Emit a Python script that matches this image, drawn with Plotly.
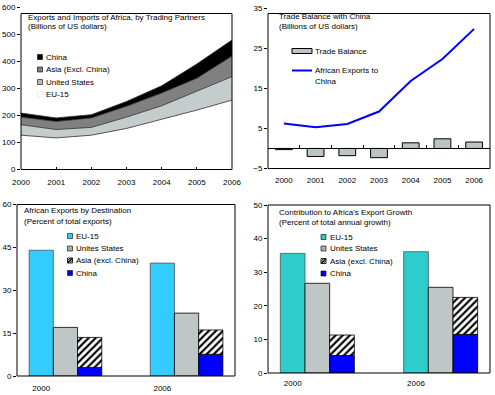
import plotly.graph_objects as go

W, H = 495, 395

# ---------------- data ----------------
years = [2000, 2001, 2002, 2003, 2004, 2005, 2006]
# Panel 1: exports + imports by partner (billions US$), stacked
eu15_trade = [127, 117, 127, 152, 186, 220, 257]
us_trade = [39, 31, 29, 42, 50, 69, 87]
asia_trade = [28, 30, 35, 40, 47, 49, 76]
china_trade = [15, 13, 12, 18, 27, 53, 60]

# Panel 2: trade balance with China and exports to China (billions US$)
year_labels = ["2000", "2001", "2002", "2003", "2004", "2005", "2006"]
trade_balance = [-0.3, -2.0, -1.8, -2.3, 1.4, 2.4, 1.6]
exports_to_china = [6.2, 5.3, 6.1, 9.2, 16.8, 22.3, 29.8]

# Panel 3: exports by destination (percent of total exports)
bar_years = ["2000", "2006"]
dest_eu = [44.0, 39.5]
dest_us = [17.0, 22.0]
dest_china = [3.0, 7.6]
dest_asia = [10.5, 8.5]   # Asia excl. China, stacked on China

# Panel 4: contribution to export growth (percent of total annual growth)
contr_eu = [35.6, 36.1]
contr_us = [26.7, 25.5]
contr_china = [5.2, 11.5]
contr_asia = [6.1, 11.0]  # stacked on China

# ---------------- style ----------------
FONT = "Liberation Sans, Arial, sans-serif"
FS = 8
C_EU3 = "#33CCFF"
C_EU4 = "#2ECCCC"
C_US = "#C0C6C6"
C_CHINA = "#0000FF"
C_BAL = "#BCC4C4"


def X(px):
    return px / W


def Y(py):
    return 1 - py / H


fig = go.Figure()

# ---- Panel 1: stacked areas ----
for vals, col, name in [
    (eu15_trade, "white", "EU-15"),
    (us_trade, "#C4CCCC", "United States"),
    (asia_trade, "#808080", "Asia (Excl. China)"),
    (china_trade, "#000000", "China"),
]:
    fig.add_trace(go.Scatter(
        x=years, y=vals, stackgroup="p1", mode="lines",
        line=dict(color="#303030", width=0.8), fillcolor=col,
        name=name, xaxis="x", yaxis="y", showlegend=False,
    ))

# ---- Panel 2: bars + line ----
fig.add_trace(go.Bar(
    x=year_labels, y=trade_balance, width=0.53,
    marker=dict(color=C_BAL, line=dict(color="black", width=1)),
    xaxis="x2", yaxis="y2", showlegend=False,
))
fig.add_trace(go.Scatter(
    x=year_labels, y=exports_to_china, mode="lines",
    line=dict(color=C_CHINA, width=2),
    xaxis="x2", yaxis="y2", showlegend=False,
))

# ---- Panels 3 & 4: grouped bars with stacked China/Asia ----
idx = list(range(len(bar_years)))
hatch = dict(shape="/", fgcolor="black", bgcolor="white", size=5, solidity=0.42)
for (eu, us, ch, asia, ceu, xa, ya) in [
    (dest_eu, dest_us, dest_china, dest_asia, C_EU3, "x3", "y3"),
    (contr_eu, contr_us, contr_china, contr_asia, C_EU4, "x4", "y4"),
]:
    fig.add_trace(go.Bar(x=idx, y=eu, offsetgroup="a",
                         marker=dict(color=ceu, line=dict(color="#404040", width=0.7)),
                         xaxis=xa, yaxis=ya, showlegend=False))
    fig.add_trace(go.Bar(x=idx, y=us, offsetgroup="b",
                         marker=dict(color=C_US, line=dict(color="black", width=0.8)),
                         xaxis=xa, yaxis=ya, showlegend=False))
    fig.add_trace(go.Bar(x=idx, y=ch, offsetgroup="c",
                         marker=dict(color=C_CHINA, line=dict(color="black", width=0.8)),
                         xaxis=xa, yaxis=ya, showlegend=False))
    fig.add_trace(go.Bar(x=idx, y=asia, base=ch, offsetgroup="c",
                         marker=dict(color="white", pattern=hatch,
                                     line=dict(color="black", width=0.8)),
                         xaxis=xa, yaxis=ya, showlegend=False))

# ---------------- axes ----------------
tickfont = dict(family=FONT, size=FS, color="black")

# panel geometry in pixels: x0, x1, y(range min), y(range max)
p1 = (21, 232, 169.5, 7.5)
p2 = (268, 490, 168.5, 8)
p3 = (17, 235, 376, 204.5)
p4 = (268, 490, 373, 205)

def xdom(p):
    return [X(p[0]), X(p[1])]

def ydom(p):
    return [Y(p[2]), Y(p[3])]

common_y = dict(showgrid=False, zeroline=False, ticks="outside", ticklen=3,
                tickcolor="black", tickfont=tickfont, showline=False,
                automargin=False, fixedrange=True)
common_x = dict(showgrid=False, zeroline=False, tickfont=tickfont,
                showline=False, automargin=False, fixedrange=True)

y2_range = [-5, 35]
y2_dom = ydom(p2)
zero_pos = y2_dom[0] + (0 - y2_range[0]) / (y2_range[1] - y2_range[0]) * (y2_dom[1] - y2_dom[0])

fig.update_layout(
    xaxis=dict(domain=xdom(p1), anchor="y", range=[2000, 2006], tickmode="array",
               tickvals=years, ticktext=[str(y) for y in years], ticks="inside",
               ticklen=3, tickcolor="black", ticklabelstandoff=6, **common_x),
    yaxis=dict(domain=ydom(p1), anchor="x", range=[0, 600], tickvals=[0, 100, 200, 300, 400, 500, 600],
               **common_y),
    xaxis2=dict(domain=xdom(p2), anchor="free", position=zero_pos, type="category",
                range=[-0.5, 6.5], ticks="inside", ticklen=3, tickcolor="black",
                tickson="boundaries", showline=True, linecolor="black", linewidth=1,
                ticklabelstandoff=24, showgrid=False, zeroline=False, tickfont=tickfont,
                automargin=False, fixedrange=True),
    yaxis2=dict(domain=y2_dom, anchor="x2", range=y2_range, tickvals=[-5, 5, 15, 25, 35],
                **common_y),
    xaxis3=dict(domain=xdom(p3), anchor="y3", range=[-0.4, 1.4], tickmode="array",
                tickvals=[i - 0.2 for i in idx], ticktext=bar_years, ticks="",
                ticklabelstandoff=6, **common_x),
    yaxis3=dict(domain=ydom(p3), anchor="x3", range=[0, 60], tickvals=[0, 15, 30, 45, 60],
                **common_y),
    xaxis4=dict(domain=xdom(p4), anchor="y4", range=[-0.4, 1.4], tickmode="array",
                tickvals=[i - 0.2 for i in idx], ticktext=bar_years, ticks="",
                ticklabelstandoff=4, **common_x),
    yaxis4=dict(domain=ydom(p4), anchor="x4", range=[0, 50], tickvals=[0, 10, 20, 30, 40, 50],
                **common_y),
)

# ---------------- frames, legends, titles ----------------
shapes = []
annotations = []

def rect(x0, y0, x1, y1, fill="rgba(0,0,0,0)", line="black", lw=1):
    shapes.append(dict(type="rect", xref="paper", yref="paper",
                       x0=X(x0), x1=X(x1), y0=Y(y1), y1=Y(y0),
                       fillcolor=fill, line=dict(color=line, width=lw), layer="above"))

def seg(x0, y0, x1, y1, color="black", lw=1):
    shapes.append(dict(type="line", xref="paper", yref="paper",
                       x0=X(x0), x1=X(x1), y0=Y(y0), y1=Y(y1),
                       line=dict(color=color, width=lw), layer="above"))

def text(x, y, s):
    annotations.append(dict(xref="paper", yref="paper", x=X(x), y=Y(y), text=s,
                            showarrow=False, xanchor="left", yanchor="middle",
                            align="left", font=dict(family=FONT, size=FS, color="black")))

def hatch_box(x0, yc, s=5):
    rect(x0, yc - s / 2, x0 + s, yc + s / 2, fill="white", lw=0.8)
    seg(x0, yc + s / 2, x0 + s, yc - s / 2, lw=1.2)
    seg(x0, yc + s / 2 - 2.2, x0 + s - 2.2, yc - s / 2, lw=1.0)
    seg(x0 + 2.2, yc + s / 2, x0 + s, yc - s / 2 + 2.2, lw=1.0)

# frames
rect(21, 13.5, 232, 169.5)
rect(268, 13.5, 490, 168.5)
rect(17, 204.5, 235, 376)
rect(268, 205, 490, 373)

# panel 1
text(25.5, 17, "Exports and Imports of Africa, by Trading Partners")
text(25.5, 26.5, "(Billions of US dollars)")
for yc, col, lab in [(57, "#000000", "China"), (69.5, "#808080", "Asia (Excl. China)"),
                     (82, "#B4BCBC", "United States"), (94.5, "white", "EU-15")]:
    rect(37.5, yc - 2.5, 42.5, yc + 2.5, fill=col, line="black" if col != "white" else "#E0E0E0", lw=0.6)
    text(43.5, yc, lab)

# panel 2
text(276.5, 16.5, "Trade Balance with China")
text(276.5, 26, "(Billions of US dollars)")
rect(292, 48.5, 312, 53.5, fill=C_BAL, lw=1)
text(312.5, 51, "Trade Balance")
seg(292, 70.5, 312, 70.5, color=C_CHINA, lw=2)
text(312.5, 71, "African Exports to")
text(312.5, 81, "China")

# panel 3
text(22, 211, "African Exports by Destination")
text(22, 221, "(Percent of total exports)")
for yc, col, lab in [(236, C_EU3, "EU-15"), (248.5, "#A8AEAE", "Unites States"),
                     (None, None, "Asia (excl. China)"), (273, C_CHINA, "China")]:
    if lab.startswith("Asia"):
        hatch_box(67.5, 260.5)
        text(74, 260.5, lab)
    else:
        rect(67.5, yc - 2.5, 72.5, yc + 2.5, fill=col, lw=0.6)
        text(74, yc, lab)

# panel 4
text(277, 212, "Contribution to Africa's Export Growth")
text(277, 222.5, "(Percent of total annual growth)")
for yc, col, lab in [(237, C_EU4, "EU-15"), (248.5, "#A8AEAE", "Unites States"),
                     (None, None, "Asia (excl. China)"), (273.5, C_CHINA, "China")]:
    if lab.startswith("Asia"):
        hatch_box(321, 261)
        text(327.5, 261, lab)
    else:
        rect(321, yc - 2.5, 326, yc + 2.5, fill=col, lw=0.6)
        text(327.5, yc, lab)

fig.update_layout(
    width=W, height=H, template="none",
    margin=dict(l=0, r=0, t=0, b=0, pad=0),
    paper_bgcolor="white", plot_bgcolor="rgba(0,0,0,0)",
    font=dict(family=FONT, size=FS, color="black"),
    barmode="group", bargap=0.4, bargroupgap=0,
    showlegend=False, shapes=shapes, annotations=annotations,
)

fig.write_html(
    "out.html",
    config={"displayModeBar": False},
    post_script="document.body.style.margin='0';document.body.style.padding='0';",
)
